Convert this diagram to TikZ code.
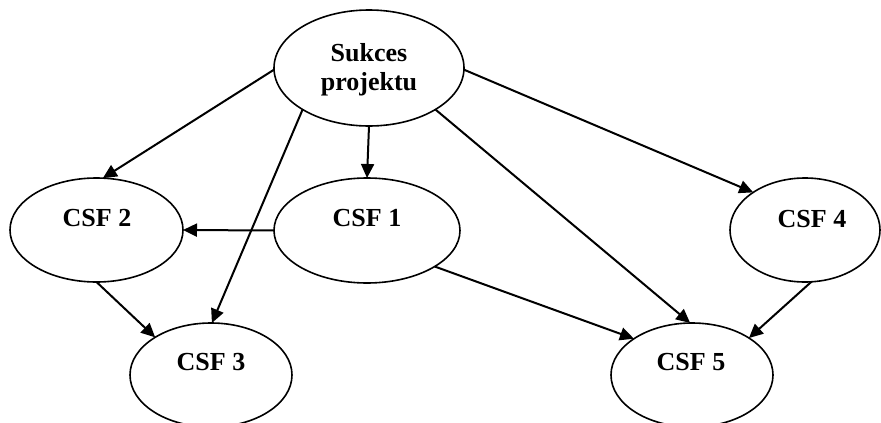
\documentclass[tikz,border=0pt]{standalone}
\usepackage{fontspec}
\setmainfont{Liberation Serif}
\usetikzlibrary{shapes.geometric,arrows.meta}
\tikzset{
  oval/.style={ellipse, draw=black, line width=1.6pt, inner sep=0pt, outer sep=0pt},
  lbl/.style={anchor=base, inner sep=0pt, font=\fontsize{26}{30}\selectfont\bfseries},
  conn/.style={line width=2pt, -{Triangle[length=14pt,width=13pt]}}
}
\begin{document}
\begin{tikzpicture}[x=1pt,y=-1pt]
\useasboundingbox (0,0) rectangle (881,423);
\fill[white] (0,0) rectangle (881,423);
% ellipses
\node[oval, minimum width=190pt, minimum height=116pt] (S)  at (369,68) {};
\node[oval, minimum width=186pt, minimum height=105pt] (C1) at (367,230.5) {};
\node[oval, minimum width=173pt, minimum height=104pt] (C2) at (96.5,230) {};
\node[oval, minimum width=162pt, minimum height=104pt] (C3) at (211,375) {};
\node[oval, minimum width=150pt, minimum height=104pt] (C4) at (805,230) {};
\node[oval, minimum width=162pt, minimum height=104pt] (C5) at (692,375) {};
% texts
\node[lbl] (tS1) at (369,61) {Sukces};
\node[lbl] (tS2) at (369,90) {projektu};
\node[lbl] (t1) at (367,226) {CSF 1};
\node[lbl] (t2) at (97,226) {CSF 2};
\node[lbl] (t3) at (211,370.5) {CSF 3};
\node[lbl] (t4) at (812,227) {CSF 4};
\node[lbl] (t5) at (691,370) {CSF 5};
% connectors
\draw[conn] (S.181) -- (C2.83);
\draw[conn] (S.212.7) -- (C3.89);
\draw[conn] (S.south) -- (C1.north);
\draw[conn] (S.-32.5) -- (C5.92);
\draw[conn] (S.359) -- (C4.144.6);
\draw[conn] (C1.west) -- (C2.east);
\draw[conn] (C2.270) -- (C3.146.4);
\draw[conn] (C1.-28.6) -- (C5.148.7);
\draw[conn] (C4.-83.5) -- (C5.33.4);
\end{tikzpicture}
\end{document}
